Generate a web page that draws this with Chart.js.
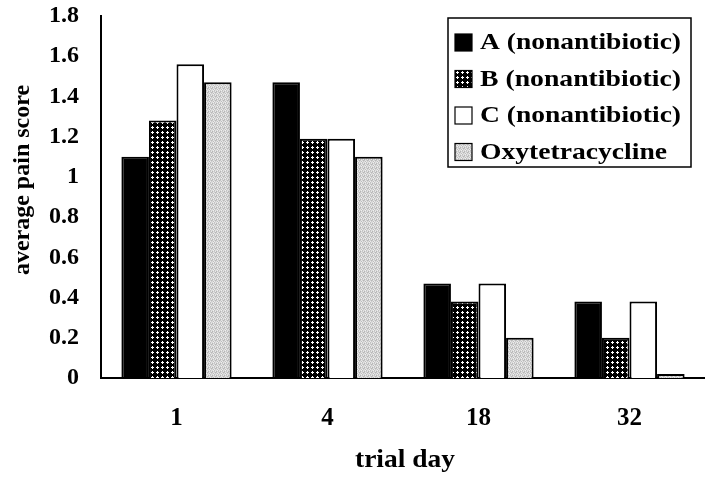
<!DOCTYPE html>
<html>
<head>
<meta charset="utf-8">
<script src="https://cdn.jsdelivr.net/npm/chart.js@4/dist/chart.umd.min.js"></script>
<style>
  html, body { margin: 0; padding: 0; background: #fff; }
  canvas { display: block; }
</style>
</head>
<body>
<canvas id="painChart" width="705" height="480"></canvas>
<script>
// data
const trialDays = ['1', '4', '18', '32'];
const seriesNames = ['A (nonantibiotic)', 'B (nonantibiotic)', 'C (nonantibiotic)', 'Oxytetracycline'];
const scoreA = [1.1, 1.47, 0.47, 0.38];
const scoreB = [1.28, 1.19, 0.38, 0.2];
const scoreC = [1.56, 1.19, 0.47, 0.38];
const scoreOxy = [1.47, 1.1, 0.2, 0.02];
const yTickLabels = ['0', '0.2', '0.4', '0.6', '0.8', '1', '1.2', '1.4', '1.6', '1.8'];

const SERIF = '"Liberation Serif", "Times New Roman", serif';

// fill patterns
function makePattern(size, draw) {
  const c = document.createElement('canvas');
  c.width = c.height = size;
  draw(c.getContext('2d'));
  return document.createElement('canvas').getContext('2d').createPattern(c, 'repeat');
}
const dotGrid = makePattern(5, g => {
  g.fillStyle = '#000'; g.fillRect(0, 0, 5, 5);
  g.fillStyle = '#fff';
  g.fillRect(2, 1, 1, 3);
  g.fillRect(1, 2, 3, 1);
});
const speckle = makePattern(4, g => {
  const shades = ['#c4c4c4', '#e6e6e6', '#d2d2d2', '#b8b8b8',
                  '#e0e0e0', '#bdbdbd', '#eaeaea', '#cccccc',
                  '#d6d6d6', '#efefef', '#c0c0c0', '#dedede',
                  '#b5b5b5', '#d9d9d9', '#c8c8c8', '#e8e8e8'];
  shades.forEach((s, i) => { g.fillStyle = s; g.fillRect(i % 4, Math.floor(i / 4), 1, 1); });
});
const fills = ['#000', dotGrid, '#fff', speckle];
const allScores = [scoreA, scoreB, scoreC, scoreOxy];

// text drawn a little wider, like the scanned original
function wideText(ctx, txt, x, y, sx) {
  ctx.save();
  ctx.translate(x, y);
  ctx.scale(sx, 1);
  ctx.fillText(txt, 0, 0);
  ctx.restore();
}

// legend box + axis titles
const extras = {
  id: 'extras',
  afterDraw(chart) {
    const ctx = chart.ctx;
    ctx.save();
    // legend
    ctx.lineWidth = 1.5;
    ctx.strokeStyle = '#000';
    ctx.strokeRect(448, 18, 243, 149);
    ctx.font = 'bold 24px ' + SERIF;
    ctx.textBaseline = 'middle';
    seriesNames.forEach((name, i) => {
      const cy = 42 + i * 36.5;
      ctx.fillStyle = fills[i];
      ctx.fillRect(455, cy - 8, 17, 17);
      ctx.lineWidth = 1.2;
      ctx.strokeRect(455, cy - 8, 17, 17);
      ctx.fillStyle = '#000';
      const w = ctx.measureText(name).width;
      wideText(ctx, name, 480, cy + 1, i === 3 ? 1.15 : 201 / w);
    });
    // y title
    ctx.font = 'bold 24px ' + SERIF;
    ctx.textAlign = 'center';
    ctx.translate(23, 180);
    ctx.rotate(-Math.PI / 2);
    ctx.fillText('average pain score', 0, 0);
    ctx.restore();
    // x title
    ctx.save();
    ctx.font = 'bold 25px ' + SERIF;
    ctx.textAlign = 'center';
    ctx.textBaseline = 'middle';
    ctx.fillStyle = '#000';
    wideText(ctx, 'trial day', 405, 461, 1.1);
    ctx.restore();
  }
};

new Chart(document.getElementById('painChart'), {
  type: 'bar',
  data: {
    labels: trialDays,
    datasets: seriesNames.map((name, i) => ({
      label: name,
      data: allScores[i],
      backgroundColor: fills[i],
      borderColor: '#000',
      borderWidth: 2,
      borderSkipped: 'bottom',
      categoryPercentage: 0.73,
      barPercentage: 1.0
    }))
  },
  options: {
    responsive: false,
    animation: false,
    layout: { padding: { top: 16, right: 0, left: 0, bottom: 0 } },
    plugins: { legend: { display: false }, tooltip: { enabled: false } },
    scales: {
      x: {
        grid: { display: false, drawTicks: false },
        border: { display: true, color: '#000', width: 2 },
        ticks: { color: '#000', padding: 26, font: { family: SERIF, size: 25, weight: 'bold' } },
        afterFit: s => { s.height = 102; s.paddingLeft = 0; s.paddingRight = 0; }
      },
      y: {
        min: 0,
        max: 1.8,
        grid: { display: false, drawTicks: false },
        border: { display: true, color: '#000', width: 2 },
        ticks: {
          stepSize: 0.2,
          color: '#000',
          padding: 22,
          font: { family: SERIF, size: 24, weight: 'bold' },
          callback: (v, i) => yTickLabels[i]
        },
        afterFit: s => { s.width = 101; s.paddingTop = 0; s.paddingBottom = 0; }
      }
    }
  },
  plugins: [extras]
});
</script>
</body>
</html>
